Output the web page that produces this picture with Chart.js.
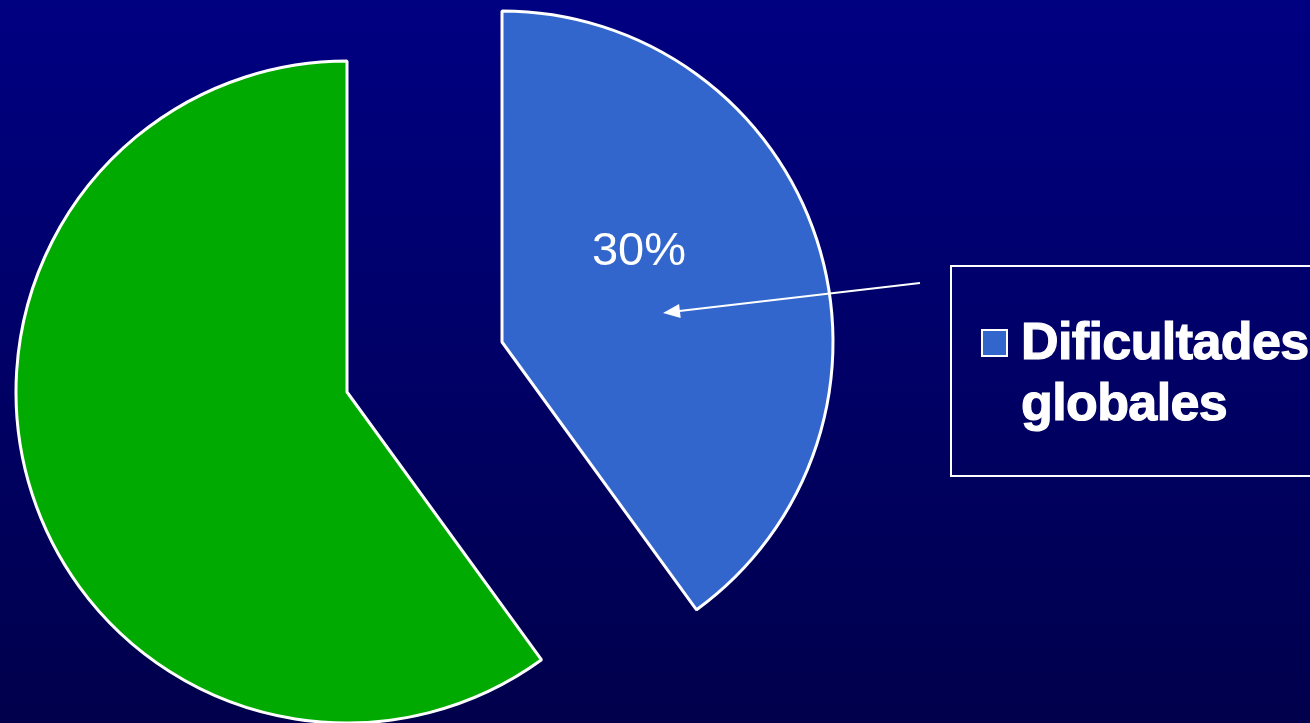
<!DOCTYPE html>
<html>
<head>
<meta charset="utf-8">
<script src="https://cdn.jsdelivr.net/npm/chart.js@4"></script>
<style>
    html, body { margin: 0; padding: 0; }
    body {
        width: 1310px; height: 723px; overflow: hidden; position: relative;
        background: linear-gradient(#000082, #00004c);
        font-family: "Liberation Sans", Arial, sans-serif;
    }
    .layer { position: absolute; left: 0; top: 0; width: 1310px; height: 723px; }
    #legend {
        position: absolute; left: 950px; top: 265px; width: 420px; height: 208px;
        border: 2px solid #fff;
    }
    #legend .box {
        position: absolute; left: 29px; top: 62px; width: 23px; height: 24px;
        background: #3366cc; border: 2px solid #fff;
    }
    #legend .txt {
        position: absolute; left: 69px; top: 44px; color: #fff;
        font-weight: bold; font-size: 52px; line-height: 61px; letter-spacing: -0.6px;
        -webkit-text-stroke: 1.2px #fff;
    }
</style>
</head>
<body>
<div class="layer"><canvas id="pie-rest"></canvas></div>
<div class="layer"><canvas id="pie-main"></canvas></div>
<div id="legend"><div class="box"></div><div class="txt">Dificultades<br>globales</div></div>
<script>
// data (slice geometry is ~40/60, label says 30%)
const categories = ['Dificultades globales', 'Otros'];
const values = [40, 60];
const sliceLabels = ['30%', ''];
const sliceColors = ['#3366cc', '#00aa00'];

const RADIUS = 331;

// only show one slice per chart, the other one is transparent
function colorsFor(idx) {
    return sliceColors.map((c, i) => i === idx ? c : 'rgba(0,0,0,0)');
}
function bordersFor(idx) {
    return sliceColors.map((c, i) => i === idx ? '#ffffff' : 'rgba(0,0,0,0)');
}

// label + arrow on the exploded slice
const calloutPlugin = {
    id: 'callout',
    afterDatasetsDraw(chart) {
        const arc = chart.getDatasetMeta(0).data[0];
        const ctx = chart.ctx;
        ctx.save();
        ctx.fillStyle = '#fff';
        ctx.font = '47px "Liberation Sans", Arial, sans-serif';
        ctx.textAlign = 'center';
        ctx.textBaseline = 'alphabetic';
        ctx.fillText(sliceLabels[0], arc.x + 137, arc.y - 77);

        const x1 = arc.x + 418, y1 = arc.y - 59;
        const x2 = arc.x + 161, y2 = arc.y - 29;
        const ang = Math.atan2(y2 - y1, x2 - x1);
        ctx.strokeStyle = '#fff';
        ctx.lineWidth = 2;
        ctx.beginPath();
        ctx.moveTo(x1, y1);
        ctx.lineTo(x2 - Math.cos(ang) * 10, y2 - Math.sin(ang) * 10);
        ctx.stroke();
        ctx.beginPath();
        ctx.moveTo(x2, y2);
        ctx.lineTo(x2 - Math.cos(ang) * 17 - Math.sin(ang) * 7, y2 - Math.sin(ang) * 17 + Math.cos(ang) * 7);
        ctx.lineTo(x2 - Math.cos(ang) * 17 + Math.sin(ang) * 7, y2 - Math.sin(ang) * 17 - Math.cos(ang) * 7);
        ctx.closePath();
        ctx.fill();
        ctx.restore();
    }
};

function makePie(canvasId, idx, padding, plugins) {
    return new Chart(document.getElementById(canvasId).getContext('2d'), {
        type: 'pie',
        data: {
            labels: categories,
            datasets: [{
                data: values,
                backgroundColor: colorsFor(idx),
                borderColor: bordersFor(idx),
                borderWidth: 3,
                clip: false
            }]
        },
        options: {
            responsive: true,
            maintainAspectRatio: false,
            animation: false,
            events: [],
            radius: RADIUS,
            layout: { padding: padding },
            plugins: {
                legend: { display: false },
                tooltip: { enabled: false }
            }
        },
        plugins: plugins
    });
}

// rest of the pie, centred at (347, 392)
makePie('pie-rest', 1, { left: 0, right: 616, top: 61, bottom: 0 }, []);
// exploded slice, centred at (502, 342)
makePie('pie-main', 0, { left: 0, right: 306, top: 0, bottom: 39 }, [calloutPlugin]);
</script>
</body>
</html>
